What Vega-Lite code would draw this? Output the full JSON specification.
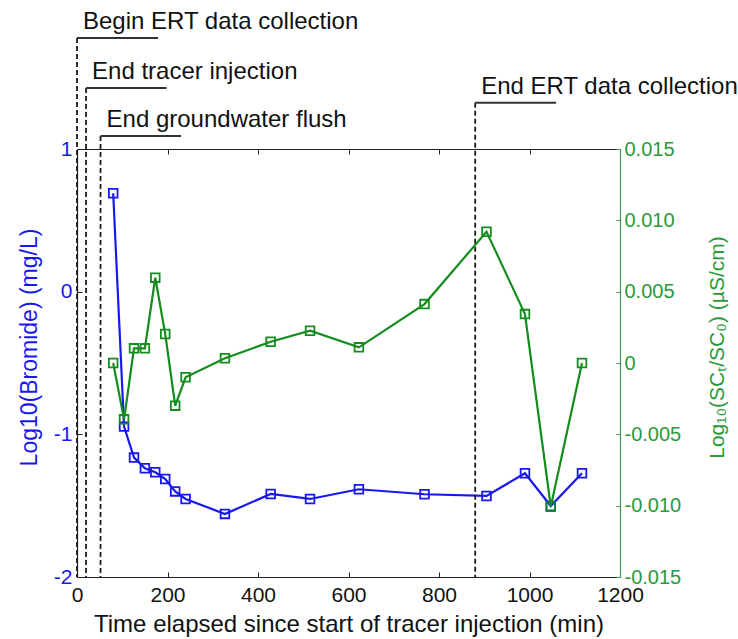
{
  "$schema": "https://vega.github.io/schema/vega-lite/v6.json",
  "autosize": "none",
  "width": 543,
  "height": 428,
  "padding": {"left": 77, "top": 149, "right": 118, "bottom": 62},
  "background": "white",
  "config": {
    "font": "Liberation Sans",
    "view": {"stroke": null},
    "axis": {"grid": false, "labelFont": "Liberation Sans", "titleFont": "Liberation Sans", "titleFontWeight": "normal"}
  },
  "datasets": {
    "series": [
      {"t": 80, "bromide": 0.69, "sc": 0.0},
      {"t": 104, "bromide": -0.946, "sc": -0.00395},
      {"t": 126, "bromide": -1.163, "sc": 0.00103},
      {"t": 150, "bromide": -1.238, "sc": 0.00103},
      {"t": 173, "bromide": -1.266, "sc": 0.00598},
      {"t": 195, "bromide": -1.313, "sc": 0.00203},
      {"t": 217, "bromide": -1.4, "sc": -0.00299},
      {"t": 240, "bromide": -1.453, "sc": -0.001},
      {"t": 327, "bromide": -1.558, "sc": 0.00033},
      {"t": 428, "bromide": -1.418, "sc": 0.00149},
      {"t": 515, "bromide": -1.453, "sc": 0.00226},
      {"t": 623, "bromide": -1.385, "sc": 0.0011},
      {"t": 768, "bromide": -1.42, "sc": 0.00413},
      {"t": 905, "bromide": -1.432, "sc": 0.0092},
      {"t": 990, "bromide": -1.273, "sc": 0.00343},
      {"t": 1047, "bromide": -1.502, "sc": -0.01007},
      {"t": 1116, "bromide": -1.273, "sc": 0.0}
    ],
    "events": [
      {"event": "Begin ERT data collection", "t": 0, "level": 1.778, "tEnd": 179},
      {"event": "End tracer injection", "t": 20, "level": 1.428, "tEnd": 198},
      {"event": "End groundwater flush", "t": 52, "level": 1.091, "tEnd": 230},
      {"event": "End ERT data collection", "t": 880, "level": 1.325, "tEnd": 1059}
    ]
  },
  "layer": [
    {
      "layer": [
        {
          "data": {"name": "series"},
          "mark": {"type": "line", "color": "#1818ee", "strokeWidth": 2.2},
          "encoding": {
            "x": {
              "field": "t", "type": "quantitative",
              "scale": {"domain": [0, 1200], "nice": false},
              "axis": {
                "orient": "bottom", "values": [0, 200, 400, 600, 800, 1000, 1200],
                "labelExpr": "datum.value + ''",
                "title": "Time elapsed since start of tracer injection (min)",
                "titleFontSize": 24, "titleColor": "#111111", "titlePadding": 7,
                "labelFontSize": 21, "labelColor": "#111111", "labelPadding": 12,
                "tickSize": -5, "tickColor": "#222222", "domainColor": "#222222", "domainWidth": 1.2,
                "labelFlush": false
              }
            },
            "y": {
              "field": "bromide", "type": "quantitative",
              "scale": {"domain": [-2, 1], "nice": false},
              "axis": {
                "orient": "left", "values": [-2, -1, 0, 1],
                "labelExpr": "datum.value + ''",
                "title": "Log10(Bromide) (mg/L)",
                "titleFontSize": 23, "titleColor": "#1818ee", "titlePadding": 12, "titleY": 198,
                "labelFontSize": 21, "labelColor": "#1818ee", "labelPadding": 10,
                "tickSize": -5, "tickColor": "#222222", "domainColor": "#222222", "domainWidth": 1.2
              }
            }
          }
        },
        {
          "data": {"name": "series"},
          "mark": {"type": "point", "shape": "square", "filled": false, "color": "#1818ee", "size": 75, "strokeWidth": 1.8, "opacity": 1},
          "encoding": {
            "x": {"field": "t", "type": "quantitative", "scale": {"domain": [0, 1200], "nice": false}},
            "y": {"field": "bromide", "type": "quantitative", "scale": {"domain": [-2, 1], "nice": false}}
          }
        },
        {
          "data": {"name": "events"},
          "mark": {"type": "rule", "strokeDash": [5, 3], "color": "#1a1a1a", "strokeWidth": 1.8},
          "encoding": {
            "x": {"field": "t", "type": "quantitative", "scale": {"domain": [0, 1200], "nice": false}},
            "y": {"field": "level", "type": "quantitative", "scale": {"domain": [-2, 1], "nice": false}},
            "y2": {"datum": -2}
          }
        },
        {
          "data": {"name": "events"},
          "mark": {"type": "rule", "color": "#333333", "strokeWidth": 2},
          "encoding": {
            "x": {"field": "t", "type": "quantitative", "scale": {"domain": [0, 1200], "nice": false}},
            "x2": {"field": "tEnd"},
            "y": {"field": "level", "type": "quantitative", "scale": {"domain": [-2, 1], "nice": false}}
          }
        },
        {
          "data": {"name": "events"},
          "mark": {"type": "text", "align": "left", "baseline": "alphabetic", "dx": 6, "dy": -9, "fontSize": 24, "color": "#111111", "font": "Liberation Sans"},
          "encoding": {
            "x": {"field": "t", "type": "quantitative", "scale": {"domain": [0, 1200], "nice": false}},
            "y": {"field": "level", "type": "quantitative", "scale": {"domain": [-2, 1], "nice": false}},
            "text": {"field": "event"}
          }
        }
      ]
    },
    {
      "layer": [
        {
          "data": {"name": "series"},
          "mark": {"type": "line", "color": "#148c1e", "strokeWidth": 2.2},
          "encoding": {
            "x": {
              "field": "t", "type": "quantitative",
              "scale": {"domain": [0, 1200], "nice": false},
              "axis": {
                "orient": "top", "values": [200, 400, 600, 800, 1000], "labels": false, "title": null,
                "tickSize": -5, "tickColor": "#222222", "domainColor": "#222222", "domainWidth": 1.2
              }
            },
            "y": {
              "field": "sc", "type": "quantitative",
              "scale": {"domain": [-0.015, 0.015], "nice": false},
              "axis": {
                "orient": "right", "values": [-0.015, -0.01, -0.005, 0, 0.005, 0.01, 0.015],
                "labelExpr": "datum.value == 0 ? '0' : replace(format(datum.value, '.3f'), '−', '-')",
                "title": "Log₁₀(SCₜ/SC₀) (µS/cm)",
                "titleAngle": -90, "titleBaseline": "top", "titleY": 198,
                "titleFontSize": 21, "titleColor": "#2a9a3a", "titlePadding": 26,
                "labelFontSize": 20, "labelColor": "#2a9a3a", "labelPadding": 8,
                "tickSize": -4, "tickColor": "#3c9c4c", "domainColor": "#3c9c4c", "domainWidth": 1.2
              }
            }
          }
        },
        {
          "data": {"name": "series"},
          "mark": {"type": "point", "shape": "square", "filled": false, "color": "#148c1e", "size": 75, "strokeWidth": 1.8, "opacity": 1},
          "encoding": {
            "x": {"field": "t", "type": "quantitative", "scale": {"domain": [0, 1200], "nice": false}},
            "y": {"field": "sc", "type": "quantitative", "scale": {"domain": [-0.015, 0.015], "nice": false}}
          }
        }
      ]
    }
  ],
  "resolve": {"scale": {"y": "independent"}, "axis": {"x": "independent"}}
}
